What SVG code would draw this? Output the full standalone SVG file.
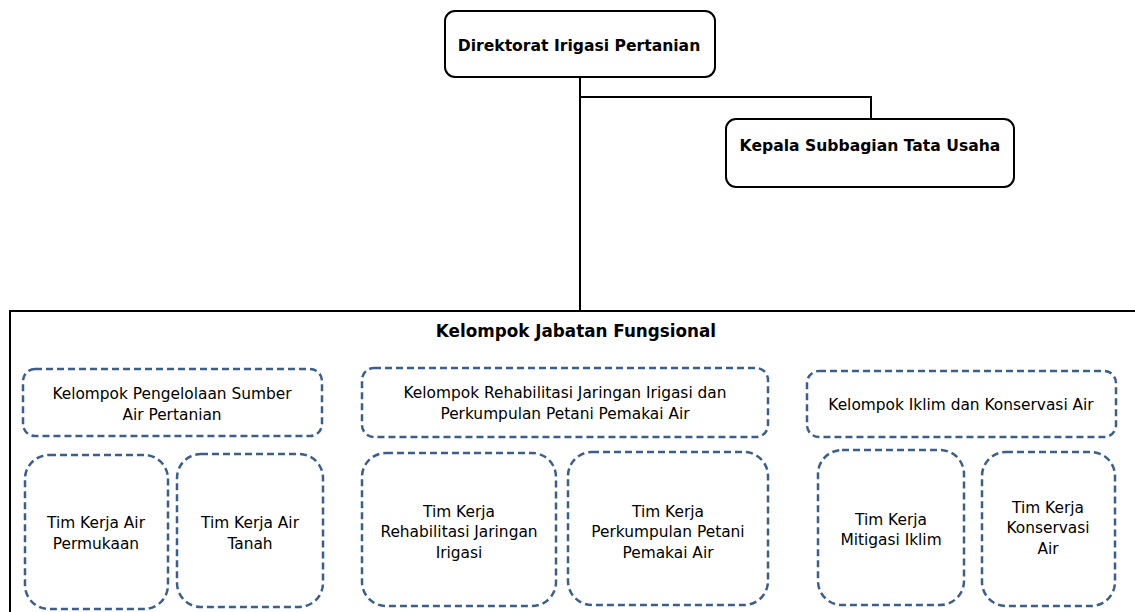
<svg xmlns="http://www.w3.org/2000/svg" width="1135" height="612" viewBox="0 0 1135 612">
<style>
.solid{fill:#fff;stroke:#000;stroke-width:2}
.dash{fill:#fff;stroke:#3A5F8E;stroke-width:2.5;stroke-dasharray:7 4}
.b{font-family:"DejaVu Sans",Verdana,sans-serif;font-weight:bold;font-size:15.6px;text-anchor:middle;fill:#000}
.r{font-family:"DejaVu Sans",Verdana,sans-serif;font-size:15.4px;text-anchor:middle;fill:#000}
.line{fill:none;stroke:#000;stroke-width:2}
</style>
<rect width="1135" height="612" fill="#fff"/>
<g id="connectors">
<path class="line" d="M580 77V311"/>
<path class="line" d="M580 97H871V119"/>
</g>
<g id="direktorat">
<rect class="solid" x="445" y="11" width="270" height="66" rx="10"/>
<text class="b" x="579" y="51">Direktorat Irigasi Pertanian</text>
</g>
<g id="kepala">
<rect class="solid" x="726" y="119" width="288" height="68" rx="10"/>
<text class="b" x="870" y="151">Kepala Subbagian Tata Usaha</text>
</g>
<g id="kjf">
<rect class="solid" x="10" y="311" width="1140" height="320"/>
<text class="b" x="576" y="337" style="font-size:16.8px">Kelompok Jabatan Fungsional</text>
</g>
<g id="kel1">
<rect class="dash" x="23" y="369" width="299" height="67" rx="12"/>
<text class="r" x="172" y="399">Kelompok Pengelolaan Sumber</text>
<text class="r" x="172" y="420">Air Pertanian</text>
</g>
<g id="kel2">
<rect class="dash" x="362" y="368" width="406" height="69" rx="12"/>
<text class="r" x="565" y="398">Kelompok Rehabilitasi Jaringan Irigasi dan</text>
<text class="r" x="565" y="419">Perkumpulan Petani Pemakai Air</text>
</g>
<g id="kel3">
<rect class="dash" x="807" y="371" width="309" height="66" rx="12"/>
<text class="r" x="961" y="410">Kelompok Iklim dan Konservasi Air</text>
</g>
<g id="tim1">
<rect class="dash" x="25" y="455" width="143" height="154" rx="24"/>
<text class="r" x="96" y="528">Tim Kerja Air</text>
<text class="r" x="96" y="549">Permukaan</text>
</g>
<g id="tim2">
<rect class="dash" x="177" y="454" width="146" height="153" rx="24"/>
<text class="r" x="250" y="528">Tim Kerja Air</text>
<text class="r" x="250" y="549">Tanah</text>
</g>
<g id="tim3">
<rect class="dash" x="362" y="453" width="194" height="153" rx="24"/>
<text class="r" x="459" y="517">Tim Kerja</text>
<text class="r" x="459" y="537">Rehabilitasi Jaringan</text>
<text class="r" x="459" y="558">Irigasi</text>
</g>
<g id="tim4">
<rect class="dash" x="568" y="452" width="200" height="153" rx="24"/>
<text class="r" x="668" y="517">Tim Kerja</text>
<text class="r" x="668" y="537">Perkumpulan Petani</text>
<text class="r" x="668" y="558">Pemakai Air</text>
</g>
<g id="tim5">
<rect class="dash" x="818" y="450" width="146" height="155" rx="24"/>
<text class="r" x="891" y="525">Tim Kerja</text>
<text class="r" x="891" y="545">Mitigasi Iklim</text>
</g>
<g id="tim6">
<rect class="dash" x="982" y="452" width="133" height="154" rx="24"/>
<text class="r" x="1048" y="513">Tim Kerja</text>
<text class="r" x="1048" y="533">Konservasi</text>
<text class="r" x="1048" y="554">Air</text>
</g>
</svg>
